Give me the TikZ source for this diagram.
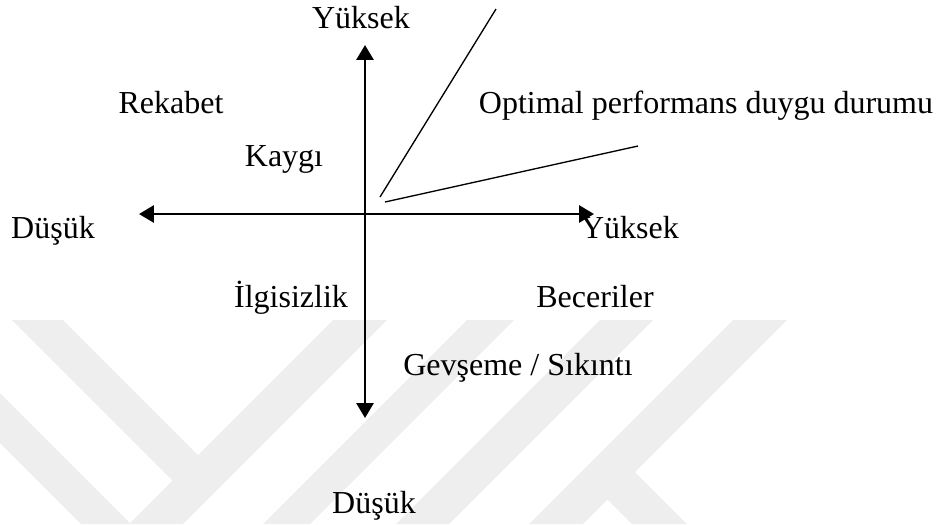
\documentclass[tikz,border=0pt]{standalone}
\usepackage{fontspec}
\setmainfont{Liberation Serif}
\usetikzlibrary{arrows.meta}
\definecolor{wm}{RGB}{238,238,238}
\begin{document}
\begin{tikzpicture}[x=0.375pt,y=-0.375pt,
  lbl/.style={anchor=base,inner sep=0pt,font=\fontsize{12}{14}\selectfont},
  axis/.style={line width=0.95pt,{Triangle[length=5.6pt,width=6.4pt]}-{Triangle[length=5.6pt,width=6.4pt]}},
  thinline/.style={line width=0.5pt},
  mark wm/.style={fill=wm}]
\useasboundingbox (0,0) rectangle (937,524);
% watermark
\fill[mark wm] (333,320) -- (387,320) -- (183,524) -- (129,524) -- cycle;
\fill[mark wm] (467,320) -- (514,320) -- (310,524) -- (263,524) -- cycle;
\fill[mark wm] (600,320) -- (653,320) -- (449,524) -- (396,524) -- cycle;
\fill[mark wm] (733,320) -- (787,320) -- (583,524) -- (529,524) -- cycle;
\fill[mark wm] (12,320) -- (63,320) -- (211.5,468.5) -- (186,494) -- cycle;
\fill[mark wm] (0,393) -- (131,524) -- (81,524) -- (0,443) -- cycle;
\fill[mark wm] (621.5,458.5) -- (687,524) -- (632,524) -- (594,486) -- cycle;
% axes
\coordinate (vtop) at (365,45);
\coordinate (vbot) at (365,418);
\coordinate (hleft) at (139,214);
\coordinate (hright) at (594,214);
\draw[axis] (vbot) -- (vtop);
\draw[axis] (hleft) -- (hright);
% optimal lines
\coordinate (l1a) at (380,197);
\coordinate (l1b) at (496,9);
\coordinate (l2a) at (385,202);
\coordinate (l2b) at (638,146);
\draw[thinline] (l1a) -- (l1b);
\draw[thinline] (l2a) -- (l2b);
% labels
\node[lbl] (ytop) at (361,28) {Yüksek};
\node[lbl] (rek) at (171,113) {Rekabet};
\node[lbl] (opt) at (706,113) {Optimal performans duygu durumu};
\node[lbl] (kay) at (284,166) {Kaygı};
\node[lbl] (dleft) at (53,238) {Düşük};
\node[lbl] (yright) at (630,238) {Yüksek};
\node[lbl] (ilg) at (291,307) {İlgisizlik};
\node[lbl] (bec) at (595,307) {Beceriler};
\node[lbl] (gev) at (518,375) {Gevşeme / Sıkıntı};
\node[lbl] (dbot) at (374,513) {Düşük};
\end{tikzpicture}
\end{document}
